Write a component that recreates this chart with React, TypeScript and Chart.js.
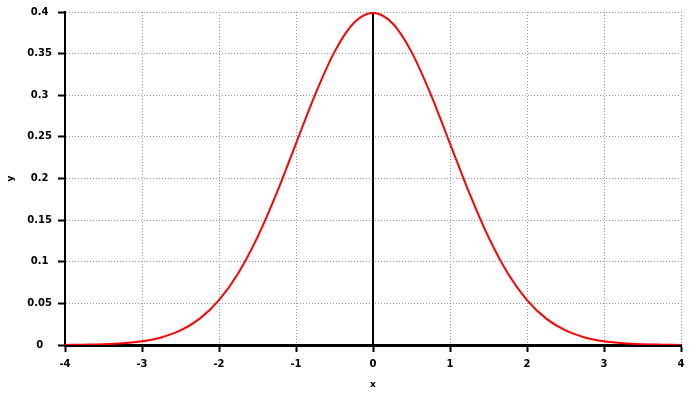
import React, { useEffect, useRef } from "react";
import { Chart, registerables } from "chart.js";

Chart.register(...registerables);

// x positions of the sampled curve
const xValues: number[] = [
  -4, -3.75, -3.5, -3.25, -3, -2.75, -2.5, -2.25, -2, -1.75, -1.5, -1.25, -1, -0.75, -0.5, -0.25,
  0, 0.25, 0.5, 0.75, 1, 1.25, 1.5, 1.75, 2, 2.25, 2.5, 2.75, 3, 3.25, 3.5, 3.75, 4,
];
// y values of the red curve
const yValues: number[] = [
  0.0001, 0.0004, 0.0009, 0.002, 0.0044, 0.0091, 0.0175, 0.0317, 0.054, 0.0863, 0.1295, 0.1826, 0.242, 0.3011, 0.3521, 0.3867,
  0.3989, 0.3867, 0.3521, 0.3011, 0.242, 0.1826, 0.1295, 0.0863, 0.054, 0.0317, 0.0175, 0.0091, 0.0044, 0.002, 0.0009, 0.0004, 0.0001,
];
// vertical black marker at the mean
const meanLineX: number[] = [0, 0];
const meanLineY: number[] = [0, 0.4];

const xMin = -4;
const xMax = 4;
const yMin = 0;
const yMax = 0.4;
const xStep = 1;
const yStep = 0.05;
const xTitle = "x";
const yTitle = "y";

export default function App() {
  const ref = useRef<HTMLCanvasElement | null>(null);

  useEffect(() => {
    document.body.style.margin = "0";
    const ctx = ref.current;
    if (!ctx) return;
    const tickFont = { family: "DejaVu Sans", size: 10, weight: "bold" as const };
    const titleFont = { family: "DejaVu Sans", size: 9, weight: "bold" as const };
    const chart = new Chart(ctx, {
      type: "line",
      data: {
        datasets: [
          {
            data: xValues.map((x, i) => ({ x, y: yValues[i] })),
            borderColor: "#ff0000",
            borderWidth: 2,
            pointRadius: 0,
            cubicInterpolationMode: "monotone",
            fill: false,
          },
          {
            data: meanLineX.map((x, i) => ({ x, y: meanLineY[i] })),
            borderColor: "#000000",
            borderWidth: 2,
            pointRadius: 0,
            fill: false,
          },
        ],
      },
      options: {
        animation: false,
        responsive: true,
        maintainAspectRatio: false,
        layout: { padding: { top: 12, right: 19, left: 0, bottom: 0 } },
        plugins: { legend: { display: false }, tooltip: { enabled: false } },
        scales: {
          x: {
            type: "linear",
            min: xMin,
            max: xMax,
            afterFit: (s: any) => {
              s.height = 49;
            },
            ticks: {
              stepSize: xStep,
              font: tickFont,
              color: "#000",
              padding: 6,
              maxRotation: 0,
              callback: (v: any) => String(Number(Number(v).toFixed(4))),
            },
            grid: {
              color: "#999999",
              lineWidth: 1,
              tickLength: 7,
              tickColor: "#000",
              tickWidth: 2,
            },
            border: { display: true, color: "#000", width: 3, dash: [1, 2] },
            title: {
              display: true,
              text: xTitle,
              font: titleFont,
              color: "#000",
              padding: { top: 0, bottom: 4 },
            },
          },
          y: {
            type: "linear",
            min: yMin,
            max: yMax,
            afterFit: (s: any) => {
              s.width = 65;
            },
            ticks: {
              stepSize: yStep,
              font: tickFont,
              color: "#000",
              padding: 6,
              crossAlign: "center",
              callback: (v: any) => String(Number(Number(v).toFixed(4))),
            },
            grid: {
              color: "#999999",
              lineWidth: 1,
              tickLength: 7,
              tickColor: "#000",
              tickWidth: 2,
            },
            border: { display: true, color: "#000", width: 2, dash: [1, 2] },
            title: {
              display: true,
              text: yTitle,
              font: titleFont,
              color: "#000",
              padding: { top: 5, bottom: 0 },
            },
          },
        },
      },
    });
    return () => chart.destroy();
  }, []);

  return (
    <div style={{ position: "absolute", left: 0, top: 0, width: 700, height: 394 }}>
      <canvas ref={ref} />
    </div>
  );
}
